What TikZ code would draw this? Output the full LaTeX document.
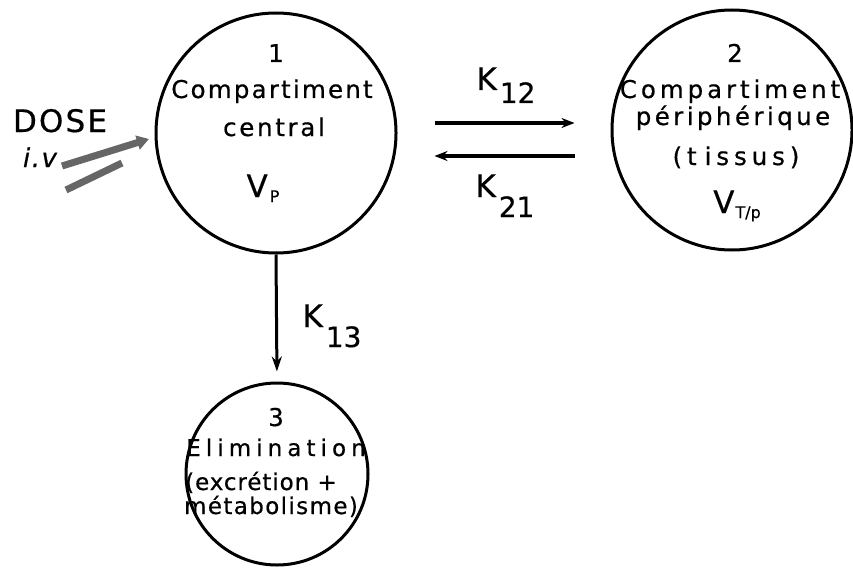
\documentclass[tikz,border=0pt]{standalone}
\usepackage{fontspec}
\setmainfont{DejaVu Sans}
\newfontfamily\txtfont{DejaVu Sans}[FakeBold=0.5]
\newfontfamily\txtfontit{DejaVu Sans Oblique}[FakeBold=0.5]
\usetikzlibrary{arrows.meta}
\newcommand{\lsp}[2]{{\addfontfeature{LetterSpace=#1}#2}}
\begin{document}
\begin{tikzpicture}[x=1pt,y=-1pt,
  comp/.style={circle, draw, line width=3pt, inner sep=0pt},
  ctext/.style={anchor=base, inner sep=0pt, font=\txtfont\fontsize{24.5}{28}\selectfont},
  etext/.style={anchor=base, inner sep=0pt, font=\txtfont\fontsize{23}{26}\selectfont},
  klab/.style={anchor=base, inner sep=0pt, font=\txtfont\fontsize{31}{36}\selectfont},
  flow/.style={line width=3.6pt, -{Stealth[length=13pt,width=10pt]}},
  bolt/.style={line width=7pt, black!60}
]
\useasboundingbox (0,0) rectangle (853,567);
% compartments
\node[comp, minimum size=240pt] (c1) at (276,133) {};
\node[comp, minimum size=240pt] (c2) at (732,130) {};
\node[comp, minimum size=182pt] (c3) at (277,474) {};
% texts compartment 1
\node[ctext] (n1) at (276,62) {1};
\node[ctext] (t1a) at (272,98) {\lsp{9}{Compartiment}};
\node[ctext] (t1b) at (274,136) {\lsp{11}{central}};
\node[klab] (vp) at (263,197) {V\hspace{2pt}\raisebox{-5pt}{\fontsize{16}{16}\selectfont P}};
% texts compartment 2
\node[ctext] (n2) at (735,62) {2};
\node[ctext] (t2a) at (730,98) {\lsp{16}{Compartiment}};
\node[ctext] (t2b) at (733,125) {\lsp{14}{périphérique}};
\node[ctext] (t2c) at (736,165) {\lsp{20}{(t\hspace{8pt}issus)}};
\node[klab] (vt) at (737,213) {V\hspace{1pt}\raisebox{-5pt}{\fontsize{16}{16}\selectfont T/p}};
% texts compartment 3
\node[ctext] (n3) at (276,426) {3};
\node[etext] (t3a) at (276,456) {\lsp{22}{Elimination}};
\node[etext] (t3b) at (261,490) {\lsp{4}{(excrétion +}};
\node[etext] (t3c) at (271,514) {\lsp{6}{métabolisme)}};
% rate constants
\node[klab] (k12) at (506,90) {K\hspace{3pt}\raisebox{-13pt}{\fontsize{28}{28}\selectfont 12}};
\node[klab] (k21) at (505,197) {K\hspace{3pt}\raisebox{-20pt}{\fontsize{28}{28}\selectfont 21}};
\node[klab] (k13) at (332,327) {K\hspace{3pt}\raisebox{-20pt}{\fontsize{28}{28}\selectfont 13}};
% dose
\node[klab] (dose) at (60,132) {\lsp{7}{DOSE}};
\node[anchor=base, inner sep=0pt, font=\txtfontit\fontsize{26}{30}\selectfont] (iv) at (40,167) {\lsp{6}{i.v}};
\coordinate (b1s) at (62,166);
\coordinate (b1e) at (149,139);
\coordinate (b2s) at (66,190);
\coordinate (b2e) at (122,163);
\draw[bolt, -{Triangle[length=12pt,width=14pt]}] (b1s) -- (b1e);
\draw[bolt] (b2s) -- (b2e);
% transfers
\draw[flow, shorten <=37pt, shorten >=36pt] ([yshift=10pt]c1.east) -- ([yshift=7pt]c2.west);
\draw[flow, shorten <=36pt, shorten >=37pt] ([yshift=-26pt]c2.west) -- ([yshift=-23pt]c1.east);
\draw[line width=3pt, -{Stealth[length=15pt,width=10pt]}, shorten >=10pt] (c1.south) -- (c3.north);
\end{tikzpicture}
\end{document}
